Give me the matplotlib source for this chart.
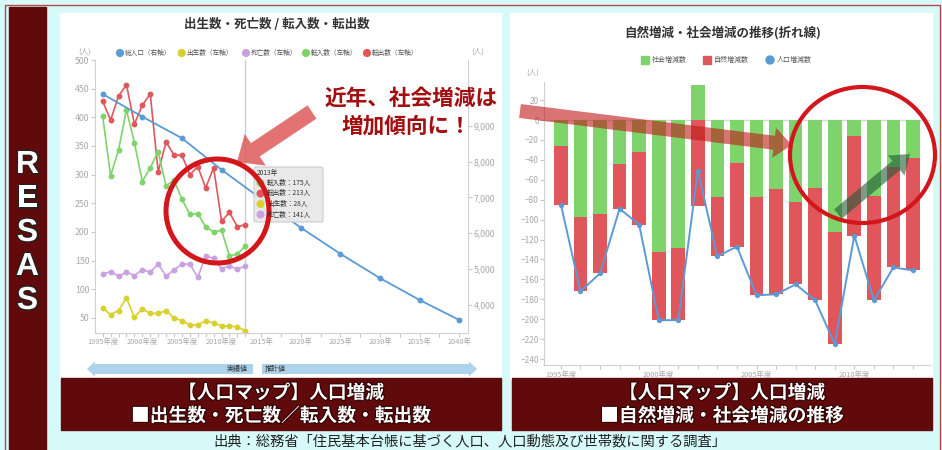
import matplotlib
matplotlib.use('Agg')
import matplotlib.pyplot as plt
import matplotlib.patheffects as pe
from matplotlib.patches import Rectangle, Ellipse, FancyArrow, Circle, FancyBboxPatch
from matplotlib.ticker import FuncFormatter
import numpy as np

plt.rcParams['font.family'] = ['Noto Sans CJK JP', 'DejaVu Sans']

W, H = 942, 450

# ---- data ----
hist_years = list(range(1995, 2014))
moving_in = [402, 298, 343, 413, 356, 288, 312, 340, 280, 291, 257, 231, 232, 209, 200, 203, 158, 162, 175]
moving_out = [428, 395, 437, 457, 388, 421, 441, 305, 357, 334, 334, 300, 314, 277, 312, 219, 234, 209, 213]
births = [67, 56, 63, 85, 51, 66, 58, 58, 63, 50, 45, 38, 38, 45, 41, 36, 36, 34, 28]
deaths = [126, 131, 123, 130, 124, 134, 130, 144, 123, 134, 144, 144, 121, 158, 154, 136, 141, 135, 141]

pop_years = [1995, 2000, 2005, 2010, 2015, 2020, 2025, 2030, 2035, 2040]
population = [9880, 9250, 8650, 7770, 6960, 6156, 5426, 4749, 4139, 3582]

left_xticks = [1995, 2000, 2005, 2010, 2015, 2020, 2025, 2030, 2035, 2040]
left_xlabels = ['1995年度', '2000年度', '2005年度', '2010年度', '2015年',
                '2020年', '2025年', '2030年', '2035年', '2040年']
left_legend = ['総人口（右軸）', '出生数（左軸）', '死亡数（左軸）', '転入数（左軸）', '転出数（左軸）']
right_legend = ['社会増減数', '自然増減数', '人口増減数']
bar_xlabels = ['1995年度', '', '', '', '', '2000年度', '', '', '', '', '2005年度',
               '', '', '', '', '2010年度', '', '', '']

social = np.array(moving_in) - np.array(moving_out)
natural = np.array(births) - np.array(deaths)
total = social + natural

BLUE = '#5b9bd5'
YELLOW = '#d8d02c'
PURPLE = '#c9a0e2'
GREEN = '#7ed36b'
RED = '#e0575b'
DARK = '#600a0b'
CYAN = '#d6fafa'
CIRCLE_RED = '#d3161b'
GRAY = '#a8a8a8'

fig = plt.figure(figsize=(W / 100, H / 100), dpi=100)
fig.patch.set_facecolor(CYAN)


def px_axes(x0, y0, x1, y1, z):
    return fig.add_axes([x0 / W, 1 - y1 / H, (x1 - x0) / W, (y1 - y0) / H], zorder=z)


# background frame
bg = px_axes(0, 0, W, H, 0)
bg.set_xlim(0, W)
bg.set_ylim(H, 0)
bg.axis('off')
bg.add_patch(Rectangle((0, 0), W, H, color=CYAN))
bg.add_patch(Rectangle((5, 5), 935, 460, fill=False, ec='#b84848', lw=1))
bg.add_patch(Rectangle((9, 7), 37, 450, color=DARK))
bg.add_patch(Rectangle((60, 13), 441, 366, color='white'))
bg.add_patch(Rectangle((510, 13), 422, 366, color='white'))
bg.add_patch(Rectangle((61, 378), 440, 52, color=DARK))
bg.add_patch(Rectangle((512, 378), 420, 52, color=DARK))

# ---- left chart ----
ax1 = px_axes(95, 60, 468, 332.7, 1)
ax1.patch.set_visible(False)
ax1.axvline(2013, color='#cccccc', lw=1, zorder=0)
ax1.plot(hist_years, moving_out, color=RED, marker='o', ms=3.2, lw=1.2)
ax1.plot(hist_years, moving_in, color=GREEN, marker='o', ms=3.2, lw=1.2)
ax1.plot(hist_years, deaths, color=PURPLE, marker='o', ms=3.2, lw=1.2)
ax1.plot(hist_years, births, color=YELLOW, marker='o', ms=3.2, lw=1.2)
ax1.set_xlim(1994.03, 2041.1)
ax1.set_ylim(24.3, 500)
ax1.set_yticks(range(50, 501, 50))
ax1.set_xticks(left_xticks)
ax1.set_xticklabels(left_xlabels)
ax1.set_xticks(list(range(1995, 2014)) + list(np.arange(2015, 2041, 2.5)), minor=True)
for s in ['top', 'right']:
    ax1.spines[s].set_visible(False)

ax1r = ax1.twinx()
ax1r.set_zorder(1.1)
ax1r.patch.set_visible(False)
ax1r.plot(pop_years, population, color=BLUE, marker='o', ms=3.2, lw=1.3)
ax1r.set_ylim(3228, 10830)
ax1r.set_yticks(range(4000, 9001, 1000))
ax1r.yaxis.set_major_formatter(FuncFormatter(lambda v, p: f'{int(v):,}'))
ax1r.spines['top'].set_visible(False)
ax1r.spines['left'].set_visible(False)
ax1r.spines['bottom'].set_visible(False)

for a in (ax1, ax1r):
    for s in a.spines.values():
        s.set_color('#d0d0d0')
    a.tick_params(axis='y', labelsize=6.3, labelcolor=GRAY, color='#c8c8c8', length=3, width=0.8, pad=1)
ax1.tick_params(axis='x', which='both', labelsize=5.3, labelcolor=GRAY, color='#c8c8c8', length=3, width=0.8, pad=1)

# ---- right chart ----
ax2 = px_axes(544.3, 81.7, 930, 365, 1)
ax2.patch.set_visible(False)
idx = np.arange(len(hist_years))
ax2.axhline(0, color='#d8d8d8', lw=1, zorder=0)
ax2.bar(idx, social, width=0.7, color=GREEN, zorder=2)
ax2.bar(idx, natural, width=0.7, bottom=np.minimum(social, 0), color=RED, zorder=2)
ax2.plot(idx, total, color=BLUE, marker='o', ms=2.8, lw=1.4, zorder=3)
ax2.set_xlim(-0.85, 18.87)
ax2.set_ylim(-246, 38.5)
ax2.set_yticks(range(-240, 21, 20))
ax2.set_xticks(idx)
ax2.set_xticklabels(bar_xlabels)
for s in ['top', 'right']:
    ax2.spines[s].set_visible(False)
for s in ['left', 'bottom']:
    ax2.spines[s].set_color('#d0d0d0')
ax2.tick_params(axis='y', labelsize=6, labelcolor=GRAY, color='#c8c8c8', length=3, width=0.8, pad=1)
ax2.tick_params(axis='x', labelsize=5.3, labelcolor=GRAY, color='#c8c8c8', length=3, width=0.8, pad=1)

# ---- overlay: titles, legends, annotations ----
top = px_axes(0, 0, W, H, 5)
top.set_xlim(0, W)
top.set_ylim(H, 0)
top.axis('off')
top.patch.set_visible(False)

top.text(277, 25, '出生数・死亡数 / 転入数・転出数', ha='center', va='center',
         fontsize=9, fontweight='bold', color='#333333')
top.text(723, 33, '自然増減・社会増減の推移(折れ線)', ha='center', va='center',
         fontsize=9, fontweight='bold', color='#333333')

for label, col, x in zip(left_legend, [BLUE, YELLOW, PURPLE, GREEN, RED], [120, 181.7, 246, 306, 367]):
    top.add_patch(Circle((x, 53), 3.4, color=col))
    top.text(x + 5, 53, label, va='center', fontsize=4.8, color='#555555')
top.text(85, 52, '(人)', ha='center', va='center', fontsize=5.5, color=GRAY)
top.text(478, 52, '(人)', ha='center', va='center', fontsize=5.5, color=GRAY)
top.text(533, 73, '(人)', ha='center', va='center', fontsize=5.5, color=GRAY)

top.add_patch(Rectangle((641, 56), 8, 8, color=GREEN))
top.text(652, 60, right_legend[0], va='center', fontsize=5, color='#555555')
top.add_patch(Rectangle((703, 56), 8, 8, color=RED))
top.text(714, 60, right_legend[1], va='center', fontsize=5, color='#555555')
top.add_patch(Circle((770, 60), 4, color=BLUE))
top.text(777, 60, right_legend[2], va='center', fontsize=5, color='#555555')

# tooltip
top.add_patch(FancyBboxPatch((254, 167), 69, 55, boxstyle='round,pad=0,rounding_size=2',
                             fc='#e8e8e8', ec='#c8c8c8', lw=0.8, alpha=0.92))
top.text(257, 173, f'{hist_years[-1]}年', va='center', fontsize=4.8, color='#333333')
tip_rows = [('転入数', moving_in[-1], GREEN), ('転出数', moving_out[-1], RED),
            ('出生数', births[-1], YELLOW), ('死亡数', deaths[-1], PURPLE)]
for k, (name, val, col) in enumerate(tip_rows):
    y = 183 + k * 10.5
    top.add_patch(Circle((260.5, y), 3.3, color=col))
    top.text(267, y, f'{name}：{val}人', va='center', fontsize=4.8, color='#333333')

# 実績値 / 推計値 arrows
top.add_patch(FancyArrow(253, 369, -166, 0, width=10, head_width=15, head_length=8,
                         length_includes_head=True, color='#acd2ec', lw=0))
top.add_patch(FancyArrow(262, 369, 215, 0, width=10, head_width=15, head_length=8,
                         length_includes_head=True, color='#acd2ec', lw=0))
top.text(248, 369, '実績値', ha='right', va='center', fontsize=5, color='#333333')
top.text(265, 369, '推計値', ha='left', va='center', fontsize=5, color='#333333')

# left annotation
top.add_patch(FancyArrow(312, 112, -75, 50, width=16, head_width=38, head_length=22,
                         length_includes_head=True, color='#e06464', alpha=0.9, lw=0))
top.add_patch(Ellipse((217.5, 211), 103, 104, fill=False, ec=CIRCLE_RED, lw=3.6))
top.text(411, 98, '近年、社会増減は', ha='center', va='center', fontsize=15.6,
         fontweight='bold', color='#a30f10')
top.text(406, 126, '増加傾向に！', ha='center', va='center', fontsize=15.6,
         fontweight='bold', color='#a30f10')

# right annotation
top.add_patch(FancyArrow(520, 111, 272, 34, width=14, head_width=30, head_length=18,
                         length_includes_head=True, color='#c01818', alpha=0.6, lw=0))
top.add_patch(Ellipse((862.5, 155), 145, 136, fill=False, ec=CIRCLE_RED, lw=3))
top.add_patch(FancyArrow(838, 214, 72, -60, width=12, head_width=26, head_length=18,
                         length_includes_head=True, color='#1f5a35', alpha=0.6, lw=0))

# captions
stroke = [pe.withStroke(linewidth=1.5, foreground='#2a0000')]
top.text(281, 393, '【人口マップ】人口増減', ha='center', va='center', fontsize=13.5,
         fontweight='bold', color='white', path_effects=stroke)
top.text(281, 416, '■出生数・死亡数／転入数・転出数', ha='center', va='center', fontsize=13.5,
         fontweight='bold', color='white', path_effects=stroke)
top.text(722, 393, '【人口マップ】人口増減', ha='center', va='center', fontsize=13.5,
         fontweight='bold', color='white', path_effects=stroke)
top.text(722, 416, '■自然増減・社会増減の推移', ha='center', va='center', fontsize=13.5,
         fontweight='bold', color='white', path_effects=stroke)
top.text(470, 441, '出典：総務省「住民基本台帳に基づく人口、人口動態及び世帯数に関する調査」',
         ha='center', va='center', fontsize=10.3, color='#222222')

for i, ch in enumerate('RESAS'):
    top.text(27.5, 165 + i * 34, ch, ha='center', va='center', fontsize=23,
             fontweight='bold', family='Liberation Sans', color='white',
             path_effects=[pe.withStroke(linewidth=2, foreground='#222222')])

fig.savefig('out.png', dpi=100)
